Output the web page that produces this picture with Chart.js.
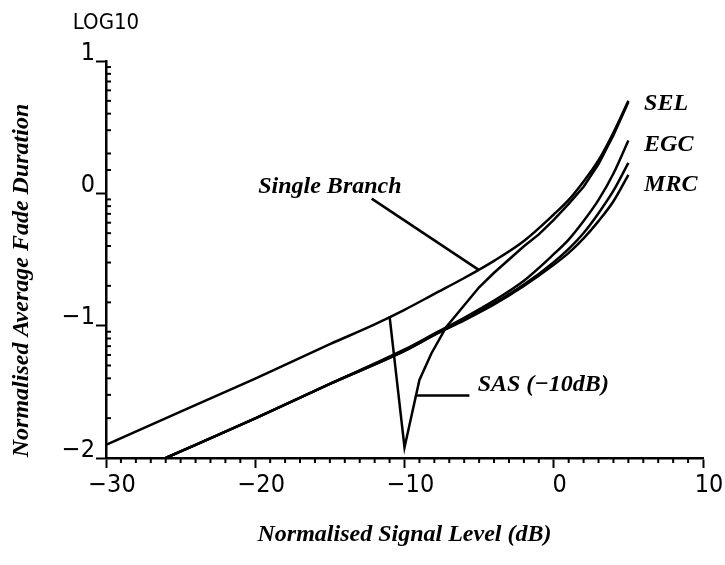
<!DOCTYPE html>
<html>
<head>
<meta charset="utf-8">
<script src="https://cdn.jsdelivr.net/npm/chart.js@4.4.1/dist/chart.umd.min.js"></script>
<style>
  html, body { margin: 0; padding: 0; background: #fff; }
  #graph { display: block; }
</style>
</head>
<body>
<canvas id="graph" width="725" height="565"></canvas>
<script>
var $ = function (id) {
    return document.getElementById(id)
}

// x = normalised signal level (dB), y = log10 of normalised average fade duration
var singleX = [-30, -25, -20, -15, -12, -10, -8, -6, -4, -2, 0, 1, 2, 3, 4, 5]
var singleY = [-1.90, -1.65, -1.40, -1.14, -0.99, -0.88, -0.76, -0.64, -0.51, -0.36, -0.16, -0.05, 0.09, 0.25, 0.46, 0.70]

var sasX = [-11, -10, -9, -8.2, -7.2, -6.4, -5, -4, -3, -2, -1, 0, 1, 2, 3, 4, 5]
var sasY = [-0.93, -1.92, -1.41, -1.21, -1.01, -0.90, -0.71, -0.60, -0.50, -0.40, -0.31, -0.20, -0.08, 0.05, 0.22, 0.44, 0.69]

var divX = [-26, -20, -15, -10, -8, -6, -4, -2, 0, 1, 2, 3, 4, 5]
var selY = [-2.00, -1.70, -1.44, -1.18, -1.06, -0.94, -0.81, -0.66, -0.46, -0.35, -0.21, -0.05, 0.15, 0.40]
var egcY = [-2.00, -1.70, -1.44, -1.19, -1.07, -0.95, -0.83, -0.69, -0.52, -0.42, -0.30, -0.15, 0.02, 0.23]
var mrcY = [-2.00, -1.70, -1.44, -1.19, -1.07, -0.96, -0.84, -0.70, -0.54, -0.45, -0.34, -0.21, -0.06, 0.14]

var xTicks = [-30, -20, -10, 0, 10]
var yTicks = [-2, -1, 0, 1]

var TICK_FONT = '"Liberation Sans Narrow", "DejaVu Sans Condensed", sans-serif'
var LABEL_FONT = '"Liberation Serif", "DejaVu Serif", serif'

function pts(xs, ys) {
    return xs.map(function (x, i) { return { x: x, y: Math.pow(10, ys[i]) } })
}

function isPow10(v) {
    var l = Math.log10(v)
    return Math.abs(l - Math.round(l)) < 1e-6
}

function minus(s) {
    return String(s).replace('-', '\u2212')
}

function curve(label, data, smooth) {
    return {
        label: label,
        data: data,
        borderColor: '#000',
        borderWidth: 2.5,
        pointRadius: 0,
        fill: false,
        tension: 0,
        cubicInterpolationMode: smooth ? 'monotone' : 'default'
    }
}

// curve names, leader lines, minor ticks
var extras = {
    id: 'extras',
    afterDraw: function (chart) {
        var ctx = chart.ctx
        var xs = chart.scales.x
        var ys = chart.scales.y
        var px = function (v) { return xs.getPixelForValue(v) }
        var py = function (v) { return ys.getPixelForValue(Math.pow(10, v)) }
        var line = function (x1, y1, x2, y2) {
            ctx.beginPath(); ctx.moveTo(x1, y1); ctx.lineTo(x2, y2); ctx.stroke()
        }
        ctx.save()
        ctx.strokeStyle = '#000'
        ctx.fillStyle = '#000'
        ctx.lineWidth = 2
        xs.ticks.forEach(function (t) {
            if (xTicks.indexOf(t.value) < 0) line(px(t.value), xs.top, px(t.value), xs.top + 5)
        })
        ys.ticks.forEach(function (t) {
            if (!isPow10(t.value)) {
                var y = ys.getPixelForValue(t.value)
                line(ys.right, y, ys.right + 5, y)
            }
        })

        ctx.lineWidth = 2.5
        line(px(-12.2), py(-0.04), px(-5.0), py(-0.58))
        line(px(-9.3), py(-1.527), px(-5.65), py(-1.527))

        ctx.font = 'italic bold 24px ' + LABEL_FONT
        ctx.textBaseline = 'middle'
        ctx.textAlign = 'center'
        ctx.fillText('Single Branch', px(-15.0), py(0.05))
        ctx.textAlign = 'left'
        ctx.fillText('SAS (\u221210dB)', px(-5.1), py(-1.45))
        ctx.fillText('SEL', px(6.05), py(0.673))
        ctx.fillText('EGC', px(6.05), py(0.363))
        ctx.fillText('MRC', px(6.05), py(0.068))

        ctx.font = '22px ' + TICK_FONT
        ctx.textAlign = 'center'
        ctx.fillText('LOG10', ys.right, chart.chartArea.top - 38)
        ctx.restore()
    }
}

var chart = new Chart($('graph').getContext('2d'), {
    type: 'line',
    data: {
        datasets: [
            curve('Single Branch', pts(singleX, singleY), true),
            curve('SAS (-10dB)', pts(sasX, sasY), false),
            curve('SEL', pts(divX, selY), true),
            curve('EGC', pts(divX, egcY), true),
            curve('MRC', pts(divX, mrcY), true)
        ]
    },
    options: {
        responsive: false,
        animation: false,
        devicePixelRatio: 1,
        layout: { padding: { top: 61, right: 22, left: 0, bottom: 0 } },
        plugins: { legend: { display: false }, tooltip: { enabled: false } },
        scales: {
            x: {
                type: 'linear',
                min: -30,
                max: 10,
                afterFit: function (scale) { scale.height = 107 },
                border: { color: '#000', width: 2.5 },
                grid: {
                    drawOnChartArea: false,
                    tickLength: 10,
                    tickWidth: 2,
                    tickColor: function (c) { return xTicks.indexOf(c.tick.value) >= 0 ? '#000' : 'rgba(0,0,0,0)' }
                },
                ticks: {
                    stepSize: 1,
                    autoSkip: false,
                    maxRotation: 0,
                    padding: 2,
                    labelOffset: 6,
                    color: '#000',
                    font: { family: TICK_FONT, size: 25 },
                    callback: function (v) { return xTicks.indexOf(v) >= 0 ? minus(v) : '' }
                },
                title: {
                    display: true,
                    text: 'Normalised Signal Level (dB)',
                    color: '#000',
                    font: { family: LABEL_FONT, size: 24, style: 'italic', weight: 'bold' },
                    padding: { top: 0, bottom: 16 }
                }
            },
            y: {
                type: 'logarithmic',
                min: 0.01,
                max: 10,
                afterFit: function (scale) { scale.width = 106 },
                border: { color: '#000', width: 2.5 },
                grid: {
                    drawOnChartArea: false,
                    tickLength: 10,
                    tickWidth: 2,
                    tickColor: function (c) { return isPow10(c.tick.value) ? '#000' : 'rgba(0,0,0,0)' }
                },
                ticks: {
                    autoSkip: false,
                    padding: 1,
                    labelOffset: -8,
                    color: '#000',
                    font: { family: TICK_FONT, size: 25 },
                    callback: function (v) {
                        if (!isPow10(v)) return ''
                        var e = Math.round(Math.log10(v))
                        return yTicks.indexOf(e) >= 0 ? minus(e) : ''
                    }
                },
                title: {
                    display: true,
                    text: 'Normalised Average Fade Duration' + '\u00a0\u00a0\u00a0\u00a0\u00a0\u00a0\u00a0',
                    color: '#000',
                    font: { family: LABEL_FONT, size: 24, style: 'italic', weight: 'bold' },
                    padding: { top: 7, bottom: 0 }
                }
            }
        }
    },
    plugins: [extras]
})
</script>
</body>
</html>
